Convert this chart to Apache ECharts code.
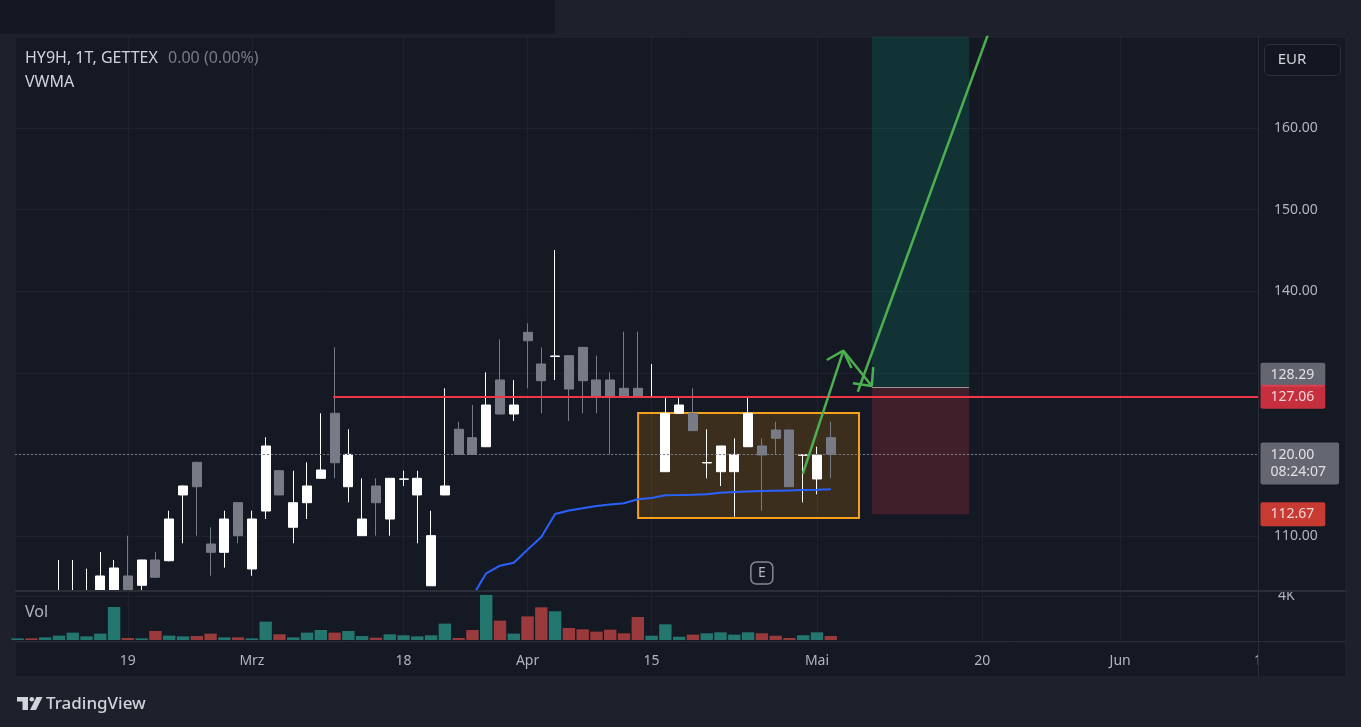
<!DOCTYPE html>
<html><head><meta charset="utf-8">
<script src="https://cdn.jsdelivr.net/npm/echarts@6/dist/echarts.min.js"></script>
<style>html,body{margin:0;padding:0;background:#1e212b;overflow:hidden}#c{width:1361px;height:727px}</style>
</head><body><div id="c"></div>
<script>
// ---- data (daily bars, HY9H gettex) ----
const days = ['2024-02-07','2024-02-08','2024-02-09','2024-02-12','2024-02-13','2024-02-14','2024-02-15','2024-02-16',
'2024-02-19','2024-02-20','2024-02-21','2024-02-22','2024-02-23','2024-02-26','2024-02-27','2024-02-28','2024-02-29',
'2024-03-01','2024-03-04','2024-03-05','2024-03-06','2024-03-07','2024-03-08','2024-03-11','2024-03-12','2024-03-13',
'2024-03-14','2024-03-15','2024-03-18','2024-03-19','2024-03-20','2024-03-21','2024-03-22','2024-03-25','2024-03-26',
'2024-03-27','2024-03-28','2024-04-02','2024-04-03','2024-04-04','2024-04-05','2024-04-08','2024-04-09','2024-04-10',
'2024-04-11','2024-04-12','2024-04-15','2024-04-16','2024-04-17','2024-04-18','2024-04-19','2024-04-22','2024-04-23',
'2024-04-24','2024-04-25','2024-04-26','2024-04-29','2024-04-30','2024-05-02','2024-05-03'];
const opens = [101.8,102.6,102.0,103.2,103.25,103.25,103.2,103.2,105.1,103.96,107.06,106.97,115.03,119.03,109.02,108.0,114.08,105.96,113.06,118.0,111.07,114.08,117.07,125.04,116.04,110.04,116.13,112.08,116.95,115.03,103.9,115.03,123.08,122.05,120.94,129.12,124.95,134.96,131.08,132.0,132.1,133.12,129.12,129.12,128.1,128.1,127.06,117.88,125.04,125.04,118.95,117.88,117.88,120.94,121.03,122.99,122.99,119.9,116.99,122.05];
const closes = [102.2,102.0,102.8,103.3,103.3,103.3,105.1,106.08,103.2,107.06,104.94,112.08,116.13,116.04,108.0,112.08,110.04,112.08,121.03,115.03,114.08,116.13,118.09,118.98,120.0,112.08,114.08,117.07,117.0,117.07,110.04,116.13,120.0,120.0,126.05,124.95,126.05,133.93,129.03,132.06,128.01,129.03,127.07,127.07,127.07,127.07,127.07,125.04,126.05,122.91,119.0,121.03,120.0,125.04,119.93,121.97,116.04,119.95,119.93,120.0];
const lows = [101.0,101.5,101.6,103.2,103.2,103.2,103.2,103.2,103.2,103.3,104.9,106.9,109.1,110.04,105.13,106.12,109.1,105.13,112.08,115.0,109.1,112.08,117.0,117.07,114.13,110.0,110.04,110.04,116.13,109.1,103.9,115.0,120.0,120.0,120.9,124.9,124.1,128.1,125.04,129.12,124.1,125.04,125.04,120.0,127.0,127.0,127.0,117.88,125.0,122.9,117.07,116.13,112.37,120.9,113.1,120.05,116.0,114.13,115.11,117.07];
const highs = [102.8,103.0,103.2,107.06,107.06,106.0,108.04,107.06,110.04,107.1,108.04,113.1,116.2,119.1,111.07,113.1,114.1,113.1,122.1,118.0,118.0,119.03,125.04,133.12,123.08,117.07,117.07,117.1,118.0,118.0,113.1,128.1,124.0,126.05,130.06,134.1,129.12,136.07,133.12,145.05,132.1,133.12,132.1,130.06,135.04,135.04,131.08,127.07,127.07,128.1,123.08,121.03,121.97,127.07,121.97,124.0,123.0,119.95,120.94,124.0];
const volumes = [150,150,240,400,670,330,580,3000,180,150,820,400,330,360,580,240,240,150,1670,520,240,670,910,670,820,360,210,520,430,330,430,1490,180,910,4100,1760,580,2150,2970,2610,1090,970,760,940,610,2090,390,1430,300,490,610,700,490,700,610,390,180,430,700,360];
const vwmaStart = 33;
const vwma = [102.6,105.43,106.36,106.73,108.33,109.88,112.70,113.13,113.40,113.68,113.86,114.02,114.50,114.66,114.99,115.02,115.06,115.11,115.31,115.39,115.45,115.51,115.55,115.59,115.63,115.67,115.72];
const xTickDates = ['2024-02-19','2024-03-01','2024-03-18','2024-04-02','2024-04-15','2024-05-02','2024-05-20','2024-06-03','2024-06-17'];
const xTickLabels = ['19','Mrz','18','Apr','15','Mai','20','Jun','1'];
const yTickValues = [110,120,130,140,150,160];
const yLabelValues = [110,140,150,160];   // 120 and 130 sit under the price tags
const volTickValues = [4000];
const lastPrice = 120.00, countdown = '08:24:07';
const resistance = 127.06, entry = 128.29, stop = 112.67;
// drawings (bar index, price)
const zoneBox = [[45.02,125.07],[61.05,112.2]];
const positionX = [62.0,69.04];
const resistanceFrom = 22.9;
const earningsAt = [54,105.46];
const arrowUp = [[56.97,117.6],[59.92,132.71]];
const arrowUpHead = [[58.71,131.57],[59.92,132.71],[60.50,130.60]];
const arrowDown = [[59.92,132.71],[61.98,128.38]];
const arrowDownHead = [[62.08,130.70],[61.98,128.38],[60.61,128.71]];
const targetLine = [[60.96,127.68],[71.17,175]];

// ---- helpers ----
function tradingIndex(d){
  const i = days.indexOf(d); if (i >= 0) return i;
  const t = new Date(days[days.length-1]+'T00:00:00Z'), target = new Date(d+'T00:00:00Z');
  let n = days.length-1;
  while (t < target){ t.setUTCDate(t.getUTCDate()+1); const w=t.getUTCDay(); if (w!==0 && w!==6) n++; }
  return n;
}
const xTickPos = xTickDates.map(tradingIndex);
const xLabelMap = {}; xTickPos.forEach((p,i)=>xLabelMap[p]=xTickLabels[i]);
const xMin = -0.19, xMax = xTickPos[xTickPos.length-1];
const yMin = 103.382, yMax = 171.152;

const FONT = '"Noto Sans", "DejaVu Sans", sans-serif';
const UP = '#ffffff', DOWN = '#787b86', VUP = '#23776f', VDOWN = '#9a3a3d';
const GRIDC = '#1f2330';

const candleData = days.map((d,k)=>[k, opens[k], closes[k], lows[k], highs[k]]);
const volData = days.map((d,k)=>({value:[k, volumes[k]], itemStyle:{color: closes[k] >= opens[k] ? VUP : VDOWN}}));
const vwmaData = vwma.map((v,j)=>[vwmaStart+j, v]);

const chart = echarts.init(document.getElementById('c'), null, {renderer:'canvas'});
const greenLine = (data)=>({type:'line', xAxisIndex:0, yAxisIndex:0, data, symbol:'none', clip:true, silent:true, z:6,
  lineStyle:{color:'#4caf50', width:2.5}});

const option = {
  backgroundColor:'#1e212b',
  animation:false,
  textStyle:{fontFamily:FONT},
  grid:[
    {left:15, top:37, width:1243, height:553},
    {left:15, top:592, width:1243, height:48}
  ],
  xAxis:[
    {type:'value', gridIndex:0, min:xMin, max:xMax, axisLine:{show:false}, axisLabel:{show:false},
      axisTick:{show:false, customValues:xTickPos}, splitLine:{show:true, lineStyle:{color:GRIDC}}},
    {type:'value', gridIndex:1, min:xMin, max:xMax, axisLine:{show:false},
      axisTick:{show:false, customValues:xTickPos},
      axisLabel:{customValues:xTickPos, formatter:v=>xLabelMap[Math.round(v)]||'', color:'#b2b5be', fontSize:14, margin:14, fontFamily:FONT},
      splitLine:{show:true, lineStyle:{color:GRIDC}}}
  ],
  yAxis:[
    {type:'value', gridIndex:0, position:'right', min:yMin, max:yMax, axisLine:{show:false},
      axisTick:{show:false, customValues:yTickValues},
      axisLabel:{customValues:yLabelValues, formatter:v=>v.toFixed(2), color:'#b2b5be', fontSize:14, margin:16, fontFamily:FONT},
      splitLine:{show:true, lineStyle:{color:GRIDC}}},
    {type:'value', gridIndex:1, position:'right', min:0, max:4364, axisLine:{show:false},
      axisTick:{show:false, customValues:volTickValues},
      axisLabel:{customValues:volTickValues, formatter:v=>(v/1000)+'K', color:'#b2b5be', fontSize:14, margin:20, verticalAlign:'middle', fontFamily:FONT},
      splitLine:{show:true, lineStyle:{color:GRIDC}}}
  ],
  series:[
    {type:'candlestick', name:'HY9H', xAxisIndex:0, yAxisIndex:0, data:candleData, encode:{x:0, y:[1,2,3,4]},
      barWidth:9.5, clip:true, z:3,
      itemStyle:{color:UP, color0:DOWN, borderColor:UP, borderColor0:DOWN, borderWidth:1},
      markArea:{silent:true, data:[
        [{coord:zoneBox[0], itemStyle:{color:'rgba(255,152,0,0.17)', borderColor:'#f5a11c', borderWidth:2}},{coord:zoneBox[1]}],
        [{coord:[positionX[0], yMax], itemStyle:{color:'rgba(8,153,129,0.2)'}},{coord:[positionX[1], entry]}],
        [{coord:[positionX[0], entry], itemStyle:{color:'rgba(242,54,69,0.2)'}},{coord:[positionX[1], stop]}]
      ]},
      markLine:{silent:true, symbol:['none','none'], label:{show:false}, data:[
        [{coord:[xMin,lastPrice], lineStyle:{color:'#787b86', type:[2,2], width:1}},{coord:[xMax,lastPrice]}],
        [{coord:[resistanceFrom,resistance], lineStyle:{color:'#f23645', type:'solid', width:2}},{coord:[xMax,resistance]}],
        [{coord:[positionX[0],entry], lineStyle:{color:'#9598a1', type:'solid', width:1}},{coord:[positionX[1],entry]}]
      ]},
      markPoint:{silent:true, data:[
        {coord:earningsAt, symbol:'roundRect', symbolSize:[22,22],
          itemStyle:{color:'#151924', borderColor:'#868993', borderWidth:1.5},
          label:{show:true, position:'inside', formatter:'E', color:'#b2b5be', fontSize:14, fontFamily:FONT}}
      ]}
    },
    {type:'line', name:'VWMA', xAxisIndex:0, yAxisIndex:0, data:vwmaData, symbol:'none', clip:true, z:4,
      lineStyle:{color:'#2962ff', width:2}},
    greenLine(arrowUp), greenLine(arrowUpHead), greenLine(arrowDown), greenLine(arrowDownHead), greenLine(targetLine),
    {type:'bar', name:'Vol', xAxisIndex:1, yAxisIndex:1, data:volData, barWidth:12.4},
    {type:'scatter', xAxisIndex:0, yAxisIndex:0, clip:false, silent:true, symbolSize:1, z:20,
      itemStyle:{color:'rgba(0,0,0,0)'},
      label:{show:true, position:'right', distance:2, color:'#ffffff', fontSize:14, lineHeight:16,
        padding:[4,11,4,10], borderRadius:2, fontFamily:FONT, formatter:p=>p.value[1].toFixed(2)},
      data:[
        {value:[xMax,entry], label:{backgroundColor:'#787b86', offset:[0,-12]}},
        {value:[xMax,resistance], label:{backgroundColor:'#f23645'}},
        {value:[xMax,lastPrice], label:{backgroundColor:'#787b86', offset:[0,9], lineHeight:17, padding:[4,13,4,10],
          formatter:p=>p.value[1].toFixed(2)+'\n'+countdown}},
        {value:[xMax,stop], label:{backgroundColor:'#f44336'}}
      ]}
  ],
  graphic:[
    {type:'rect', z:-10, shape:{x:0,y:0,width:555,height:34}, style:{fill:'#141822'}},
    {type:'rect', z:-10, shape:{x:15,y:37,width:1331,height:640}, style:{fill:'#151924', stroke:'#252935', lineWidth:1}},
    {type:'line', z:10, shape:{x1:15,y1:591,x2:1346,y2:591}, style:{stroke:'#2a2e39', lineWidth:2}},
    {type:'line', z:1, shape:{x1:15,y1:641.5,x2:1346,y2:641.5}, style:{stroke:'#2a2e39', lineWidth:1}},
    {type:'line', z:1, shape:{x1:1258.5,y1:37,x2:1258.5,y2:677}, style:{stroke:'#2a2e39', lineWidth:1}},
    {type:'rect', z:5, shape:{x:1264.5,y:44.5,width:76,height:31,r:5}, style:{fill:'#131722', stroke:'#2e323d', lineWidth:1}},
    {type:'text', z:6, x:1292, y:60, style:{text:'EUR', fill:'#d1d4dc', font:'15px '+FONT, align:'center', verticalAlign:'middle'}},
    {type:'text', z:6, x:25, y:58, style:{text:'HY9H, 1T, GETTEX', fill:'#d1d4dc', font:'16px '+FONT, verticalAlign:'middle'}},
    {type:'text', z:6, x:168, y:58, style:{text:'0.00 (0.00%)', fill:'#787b86', font:'16px '+FONT, verticalAlign:'middle'}},
    {type:'text', z:6, x:25, y:82, style:{text:'VWMA', fill:'#d1d4dc', font:'16px '+FONT, verticalAlign:'middle'}},
    {type:'text', z:6, x:25, y:612, style:{text:'Vol', fill:'#b2b5be', font:'16px '+FONT, verticalAlign:'middle'}},
    {type:'rect', z:6, shape:{x:17,y:697,width:11,height:4.5}, style:{fill:'#d1d4dc'}},
    {type:'rect', z:6, shape:{x:22.5,y:697,width:5.5,height:13}, style:{fill:'#d1d4dc'}},
    {type:'circle', z:6, shape:{cx:31.8,cy:699.3,r:2.3}, style:{fill:'#d1d4dc'}},
    {type:'polygon', z:6, shape:{points:[[36.5,697],[42.5,697],[36,710],[30,710]]}, style:{fill:'#d1d4dc'}},
    {type:'text', z:6, x:46, y:704, style:{text:'TradingView', fill:'#d1d4dc', font:'500 17px '+FONT, verticalAlign:'middle'}}
  ]
};
chart.setOption(option);
</script></body></html>
